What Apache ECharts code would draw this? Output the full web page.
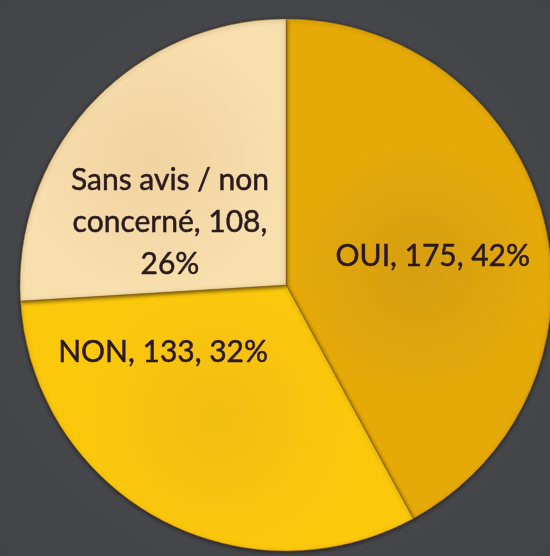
<!DOCTYPE html>
<html>
<head>
<meta charset="utf-8">
<script src="https://cdn.jsdelivr.net/npm/echarts@6/dist/echarts.min.js"></script>
<style>
  html, body { margin: 0; padding: 0; background: #47484c; }
  #chart { width: 550px; height: 556px; }
</style>
</head>
<body>
<div id="chart"></div>
<script>
// Survey answers
const categories = ['OUI', 'NON', 'Sans avis / non concerné'];
const counts = [175, 133, 108];

// Slice fills
const sliceColors = [
  { type: 'radial', x: 0.5, y: 0.5, r: 0.5, colorStops: [
    { offset: 0, color: '#d69e12' }, { offset: 1, color: '#e6aa08' } ] },
  { type: 'radial', x: 0.5, y: 0.5, r: 0.5, colorStops: [
    { offset: 0, color: '#f2bd12' }, { offset: 1, color: '#fcc80c' } ] },
  { type: 'radial', x: 0.5, y: 0.5, r: 0.5, colorStops: [
    { offset: 0, color: '#efd3a0' }, { offset: 1, color: '#f8dfae' } ] }
];
// Label nudges away from the default inside position, and manual line breaks
const labelOffsets = [[15, 5], [-57, -52], [-17, 31]];
const labelTexts = (name) => name === 'Sans avis / non concerné'
  ? ['Sans avis / non', 'concerné, {v},', '{p}%']
  : [name + ', {v}, {p}%'];

const chart = echarts.init(document.getElementById('chart'), null, { renderer: 'canvas' });

chart.setOption({
  backgroundColor: {
    type: 'radial', x: 0.5, y: 0.5, r: 0.75,
    colorStops: [{ offset: 0, color: '#4b4c50' }, { offset: 1, color: '#424347' }]
  },
  animation: false,
  series: [{
    type: 'pie',
    center: [286, 285],
    radius: [0, 266],
    startAngle: 90,
    clockwise: true,
    silent: true,
    itemStyle: {
      borderColor: 'rgba(150, 105, 20, 0.5)',
      borderWidth: 1,
      shadowBlur: 4,
      shadowColor: 'rgba(20, 10, 0, 0.7)',
      shadowOffsetY: 1
    },
    label: {
      show: true,
      position: 'inside',
      fontFamily: 'Lato',
      fontSize: 30,
      lineHeight: 42,
      color: '#2a1a1c',
      textBorderColor: '#2a1a1c',
      textBorderWidth: 0.5,
      align: 'center',
      formatter: (p) => labelTexts(p.name)
        .map(s => s.replace('{v}', p.value).replace('{p}', Math.round(p.percent)))
        .join('\n')
    },
    labelLine: { show: false },
    data: categories.map((name, i) => ({
      name,
      value: counts[i],
      itemStyle: { color: sliceColors[i] },
      label: { offset: labelOffsets[i] }
    }))
  }]
});
</script>
</body>
</html>
